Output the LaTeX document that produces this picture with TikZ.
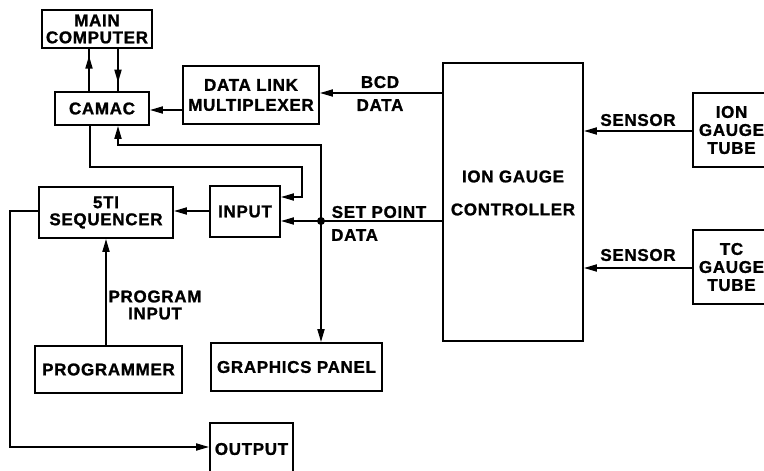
\documentclass[tikz,border=0pt]{standalone}
\usepackage{fontspec}
\setmainfont{Liberation Sans}
\newfontfamily\heavy{Liberation Sans Bold}[FakeBold=1.2,LetterSpace=4]
\usetikzlibrary{arrows.meta,decorations.markings}
\newcommand\dfont{\fontsize{17}{19}\selectfont\heavy}
\begin{document}
\begin{tikzpicture}[x=1pt,y=-1pt,
  box/.style={draw,line width=1.8pt,inner sep=0pt,align=center,font=\dfont},
  lbl/.style={font=\dfont,align=center,inner sep=0pt},
  conn/.style={line width=1.8pt},
  tip/.style={-{Triangle[length=13pt,width=7pt]}},
  arr/.style={conn,tip},
  midarr/.style={postaction={decorate},decoration={markings,
     mark=at position #1 with {\arrow{Triangle[length=13pt,width=7pt]}}}}]
\useasboundingbox (0,0) rectangle (764,471);
\clip (0,0) rectangle (764,471);
% boxes
\node[box,minimum width=110pt,minimum height=38pt] (main) at (97,29) {MAIN\\[-2pt]COMPUTER};
\node[box,minimum width=94pt,minimum height=33pt] (camac) at (102,108.5) {CAMAC};
\node[box,minimum width=136pt,minimum height=58pt] (dlm) at (251,95) {DATA LINK\\[1pt]MULTIPLEXER};
\node[box,minimum width=140pt,minimum height=278pt] (igc) at (513,202) {};
\node[lbl] (igct) at (513,193) {ION GAUGE\\[14pt]CONTROLLER};
\node[box,minimum width=77pt,minimum height=74pt] (iontube) at (731.5,130) {ION\\[-1pt]GAUGE\\[-1pt]TUBE};
\node[box,minimum width=77pt,minimum height=74pt] (tctube) at (731.5,267) {TC\\[-1pt]GAUGE\\[-1pt]TUBE};
\node[box,minimum width=70pt,minimum height=51pt] (input) at (245,211.5) {INPUT};
\node[box,minimum width=134pt,minimum height=51pt] (sti) at (106,212.5) {5TI\\[-2pt]SEQUENCER};
\node[box,minimum width=147pt,minimum height=47pt] (prog) at (108.5,369.5) {PROGRAMMER};
\node[box,minimum width=171pt,minimum height=48pt] (gp) at (296.5,367) {GRAPHICS PANEL};
\node[box,minimum width=83pt,minimum height=52pt] (output) at (251.5,449) {OUTPUT};
% labels
\node[lbl] (bcd) at (380,93.5) {BCD\\[4pt]DATA};
\node[lbl] (setpt) at (379,212) {SET POINT};
\node[lbl,anchor=west] (spdata) at (331,235) {DATA};
\node[lbl] (sens1) at (638,120) {SENSOR};
\node[lbl] (sens2) at (638,255) {SENSOR};
\node[lbl] (proginp) at (155,305) {PROGRAM\\[-2pt]INPUT};
% connectors
\coordinate (j) at (321,221);
\draw[arr] (igc.west |- 0,93) -- (dlm.east |- 0,93);
\draw[arr] (dlm.west |- 0,110) -- (camac.east |- 0,110);
\draw[conn,midarr=0.84] (89,0 |- camac.north) -- (89,0 |- main.south);
\draw[conn,midarr=0.8] (118,0 |- main.south) -- (118,0 |- camac.north);
\draw[arr] (90,0 |- camac.south) |- (302,167) -- (302,197) -- (input.east |- 0,197);
\draw[arr] (igc.west |- j) -- (input.east |- j);
\draw[arr] (j) -- (321,145) -| (118,0 |- camac.south);
\draw[arr] (j) -- (j |- gp.north);
\fill (j) circle (4pt);
\draw[arr] (input.west |- 0,211) -- (sti.east |- 0,211);
\draw[arr] (sti.west |- 0,211) -- (10,211) |- (output.west |- 0,447);
\draw[arr] (106,0 |- prog.north) -- (106,0 |- sti.south);
\draw[arr] (iontube.west |- 0,131) -- (igc.east |- 0,131);
\draw[arr] (tctube.west |- 0,268) -- (igc.east |- 0,268);
\end{tikzpicture}
\end{document}
